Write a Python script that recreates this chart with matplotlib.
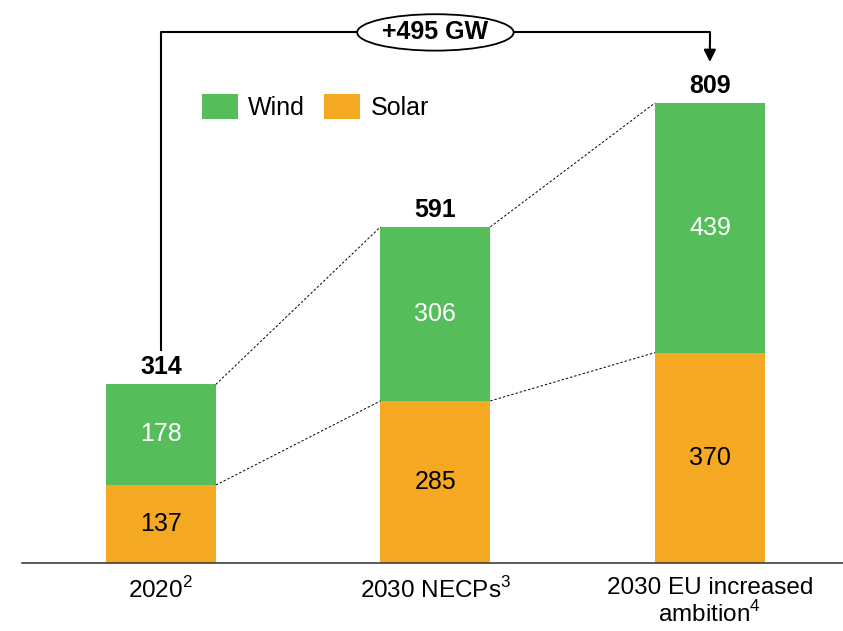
import matplotlib as mpl
import matplotlib.pyplot as plt
from matplotlib.patches import Ellipse

mpl.rcParams['font.family'] = ['Liberation Sans', 'DejaVu Sans']
mpl.rcParams['mathtext.fontset'] = 'custom'
mpl.rcParams['mathtext.rm'] = 'Liberation Sans'

categories = ['2020$^{2}$', '2030 NECPs$^{3}$', '2030 EU increased\nambition$^{4}$']
solar = [137, 285, 370]
wind = [178, 306, 439]
totals = [314, 591, 809]
delta_label = '+495 GW'

green = '#55BE5A'
orange = '#F5A822'

fig = plt.figure(figsize=(8.43, 6.31), dpi=100)
ax = fig.add_axes([22 / 843, 68 / 631, 1 - 22 / 843, 563 / 631])

x = list(range(len(categories)))
w = 0.40
ax.bar(x, solar, width=w, color=orange, label='Solar', zorder=2)
ax.bar(x, wind, width=w, bottom=solar, color=green, label='Wind', zorder=2)

for xi, s, wv, t in zip(x, solar, wind, totals):
    ax.text(xi, s / 2, str(s), ha='center', va='center', fontsize=18, color='black')
    ax.text(xi, s + wv / 2, str(wv), ha='center', va='center', fontsize=18, color='white')
    ax.text(xi, t + 9, str(t), ha='center', va='bottom', fontsize=18, fontweight='bold')

# dashed connectors between bars
for i in range(len(x) - 1):
    ax.plot([x[i] + w / 2, x[i + 1] - w / 2], [totals[i], totals[i + 1]],
            ls='--', lw=0.7, color='black', dashes=(2.5, 2))
    ax.plot([x[i] + w / 2, x[i + 1] - w / 2], [solar[i], solar[i + 1]],
            ls='--', lw=0.7, color='black', dashes=(2.5, 2))

# growth bracket
ytop = 933
ax.plot([x[0], x[0], x[2], x[2]], [totals[0] + 60, ytop, ytop, ytop - 18],
        color='black', lw=1.5, zorder=3)
ax.annotate('', xy=(x[2], totals[2] + 72), xytext=(x[2], ytop - 20),
            arrowprops=dict(arrowstyle='-|>', color='black', lw=1.5,
                            mutation_scale=18, shrinkA=0, shrinkB=0))
ax.add_patch(Ellipse((1.0, ytop), 0.57, 64, facecolor='white',
                     edgecolor='black', lw=1.3, zorder=4))
ax.text(1.0, ytop, delta_label, ha='center', va='center', fontsize=18,
        fontweight='bold', zorder=5)

ax.set_xlim(-0.506, 2.485)
ax.set_ylim(0, 990)
ax.set_xticks(x)
ax.set_xticklabels(categories, fontsize=17.5, linespacing=1.12)
ax.tick_params(axis='x', length=0, pad=10)
ax.set_yticks([])
for s in ['top', 'left', 'right']:
    ax.spines[s].set_visible(False)
ax.spines['bottom'].set_linewidth(1.2)
ax.spines['bottom'].set_color('#404040')

handles, labels = ax.get_legend_handles_labels()
ax.legend(handles[::-1], labels[::-1], ncol=2, frameon=False, fontsize=18,
          loc='upper left', bbox_to_anchor=(179 / 843, 1 - 72 / 631),
          bbox_transform=fig.transFigure, handlelength=1.44, handleheight=1.12,
          handletextpad=0.4, columnspacing=0.8)

fig.savefig('out.png', dpi=100)
